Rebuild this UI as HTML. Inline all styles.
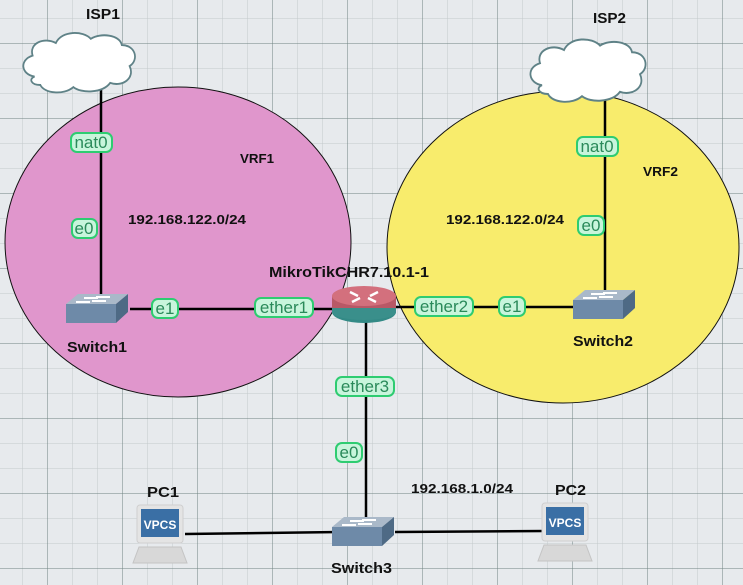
<!DOCTYPE html>
<html><head><meta charset="utf-8"><style>html,body{margin:0;padding:0;background:#e7eaed}svg{display:block}</style></head><body>
<svg width="743" height="585" viewBox="0 0 743 585" xmlns="http://www.w3.org/2000/svg" font-family="Liberation Sans, sans-serif">
<defs>
<pattern id="minor" x="22" y="18" width="25" height="25" patternUnits="userSpaceOnUse"><path d="M0 0V25M0 0H25" stroke="#c3c9cc" stroke-width="1" fill="none"/></pattern>
<pattern id="major" x="47" y="43" width="75" height="75" patternUnits="userSpaceOnUse"><path d="M0 0V75M0 0H75" stroke="#6f8381" stroke-width="1" fill="none"/></pattern>
<g id="sw"><polygon points="0,10 12,0 62,0 50,10" fill="#aab9c9"/><polygon points="50,10 62,0 62,18 50,29" fill="#4e6a85"/><rect x="0" y="10" width="50" height="19" fill="#6e8aa8"/><path d="M10 8h14M30 3h14M18 4h14M40 7h-14" stroke="#fff" stroke-width="2"/></g>
<g id="cloud"><path d="M15 52c-14-2-16-16-2-20c-4-12 12-18 24-12c6-12 28-12 36-4c10-6 30-4 32 6c14 0 18 14 8 20c6 12-8 20-20 16c-8 10-30 10-38 4c-10 8-30 6-34-2c-10 0-12-6-6-8z" fill="#fff" stroke="#5f8287" stroke-width="1.8"/></g>
<g id="pc"><rect x="4" y="0" width="46" height="38" rx="3" fill="#e4e4e4" stroke="#cfcfcf"/><rect x="8" y="4" width="38" height="28" fill="#3a6fa5"/><text x="27" y="24" font-size="12" font-weight="bold" fill="#fff" text-anchor="middle">VPCS</text><polygon points="6,42 48,42 54,58 0,58" fill="#d8d8d8" stroke="#c4c4c4"/></g>
</defs>
<rect width="743" height="585" fill="#e7eaed"/>
<rect width="743" height="585" fill="url(#minor)"/>
<rect width="743" height="585" fill="url(#major)"/>
<ellipse cx="178" cy="242" rx="173" ry="155" fill="#e096cc" stroke="#111" stroke-width="1"/>
<ellipse cx="563" cy="247" rx="176" ry="156" fill="#f8ec6c" stroke="#111" stroke-width="1"/>
<g stroke="#000" stroke-width="2.5" fill="none">
<path d="M101 90V295"/><path d="M605 98V298"/><path d="M130 309H340"/><path d="M395 307H580"/><path d="M366 318V520"/><path d="M185 534L340 532"/><path d="M395 532L545 531"/>
</g>
<g transform="translate(20,22) scale(0.97,1.05)"><use href="#cloud"/></g>
<g transform="translate(527,28) scale(1.0,1.1)"><use href="#cloud"/></g>
<use href="#sw" x="66" y="294"/>
<use href="#sw" x="573" y="290"/>
<use href="#sw" x="332" y="517"/>
<g><ellipse cx="364" cy="312" rx="32" ry="11" fill="#338a86"/><rect x="332" y="298" width="64" height="14" fill="#3a8f8b"/><ellipse cx="364" cy="312" rx="32" ry="8" fill="#3a8f8b"/><rect x="332" y="296" width="64" height="12" fill="#b85866"/><ellipse cx="364" cy="296" rx="32" ry="10" fill="#d3707d"/><path d="M350 292l8 4M378 292l-8 4M352 302l8-4M376 302l-8-4" stroke="#fff" stroke-width="2.5"/></g>
<use href="#pc" x="133" y="505"/>
<use href="#pc" x="538" y="503"/>
<g font-weight="bold" font-size="15" fill="#111">
<text x="86" y="19" textLength="34" lengthAdjust="spacingAndGlyphs">ISP1</text>
<text x="593" y="23" textLength="33" lengthAdjust="spacingAndGlyphs">ISP2</text>
<text x="67" y="352" textLength="60" lengthAdjust="spacingAndGlyphs">Switch1</text>
<text x="573" y="346" textLength="60" lengthAdjust="spacingAndGlyphs">Switch2</text>
<text x="331" y="573" textLength="61" lengthAdjust="spacingAndGlyphs">Switch3</text>
<text x="269" y="277" textLength="160" lengthAdjust="spacingAndGlyphs">MikroTikCHR7.10.1-1</text>
<text x="147" y="497" textLength="32" lengthAdjust="spacingAndGlyphs">PC1</text>
<text x="555" y="495" textLength="31" lengthAdjust="spacingAndGlyphs">PC2</text>
</g>
<g font-weight="bold" font-size="13" fill="#111">
<text x="240" y="163" textLength="34" lengthAdjust="spacingAndGlyphs">VRF1</text>
<text x="643" y="176" textLength="35" lengthAdjust="spacingAndGlyphs">VRF2</text>
<text x="128" y="224" textLength="118" lengthAdjust="spacingAndGlyphs">192.168.122.0/24</text>
<text x="446" y="224" textLength="118" lengthAdjust="spacingAndGlyphs">192.168.122.0/24</text>
<text x="411" y="493" textLength="102" lengthAdjust="spacingAndGlyphs">192.168.1.0/24</text>
</g>
<g font-size="17" fill="#2a8a5a" stroke-width="2">
<rect x="71" y="133" width="41" height="19" rx="6" fill="#c8f5dc" stroke="#2ecc71"/><text x="91" y="148" text-anchor="middle">nat0</text>
<rect x="72" y="219" width="25" height="19" rx="6" fill="#c8f5dc" stroke="#2ecc71"/><text x="84" y="234" text-anchor="middle">e0</text>
<rect x="152" y="299" width="26" height="19" rx="6" fill="#c8f5dc" stroke="#2ecc71"/><text x="165" y="314" text-anchor="middle">e1</text>
<rect x="255" y="298" width="58" height="19" rx="6" fill="#c8f5dc" stroke="#2ecc71"/><text x="284" y="313" text-anchor="middle">ether1</text>
<rect x="415" y="297" width="58" height="19" rx="6" fill="#c8f5dc" stroke="#2ecc71"/><text x="444" y="312" text-anchor="middle">ether2</text>
<rect x="499" y="297" width="26" height="19" rx="6" fill="#c8f5dc" stroke="#2ecc71"/><text x="512" y="312" text-anchor="middle">e1</text>
<rect x="577" y="137" width="41" height="19" rx="6" fill="#c8f5dc" stroke="#2ecc71"/><text x="597" y="152" text-anchor="middle">nat0</text>
<rect x="578" y="216" width="26" height="19" rx="6" fill="#c8f5dc" stroke="#2ecc71"/><text x="591" y="231" text-anchor="middle">e0</text>
<rect x="336" y="377" width="58" height="19" rx="6" fill="#c8f5dc" stroke="#2ecc71"/><text x="365" y="392" text-anchor="middle">ether3</text>
<rect x="336" y="443" width="26" height="19" rx="6" fill="#c8f5dc" stroke="#2ecc71"/><text x="349" y="458" text-anchor="middle">e0</text>
</g>
</svg>
</body></html>
